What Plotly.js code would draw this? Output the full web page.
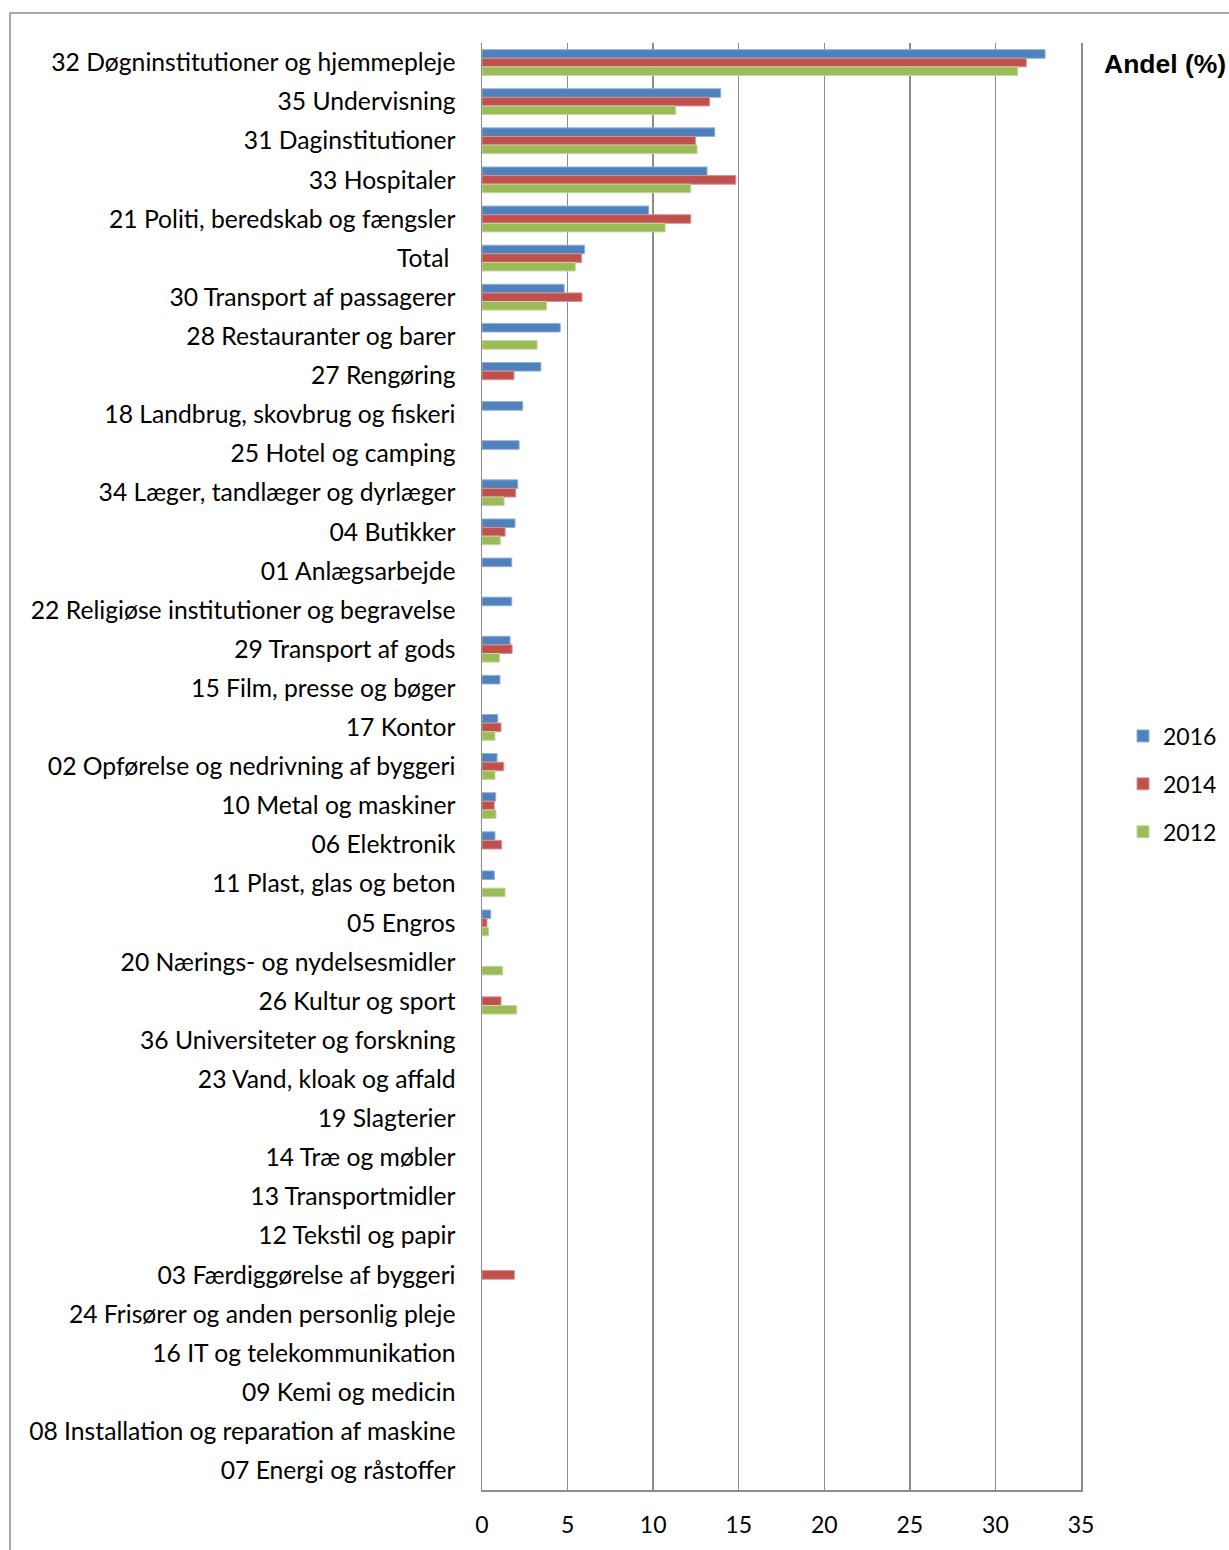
<!DOCTYPE html>
<html>
<head>
<meta charset="utf-8">
<script src="https://cdn.plot.ly/plotly-3.0.1.min.js"></script>
<style>html,body{margin:0;padding:0;background:#fff;}#chart{width:1229px;height:1550px;}</style>
</head>
<body>
<div id="chart"></div>
<script>
const categories = [
  "32 Døgninstitutioner og hjemmepleje",
  "35 Undervisning",
  "31 Daginstitutioner",
  "33 Hospitaler",
  "21 Politi, beredskab og fængsler",
  "Total\u00a0",
  "30 Transport af passagerer",
  "28 Restauranter og barer",
  "27 Rengøring",
  "18 Landbrug, skovbrug og fiskeri",
  "25 Hotel og camping",
  "34 Læger, tandlæger og dyrlæger",
  "04 Butikker",
  "01 Anlægsarbejde",
  "22 Religiøse institutioner og begravelse",
  "29 Transport af gods",
  "15 Film, presse og bøger",
  "17 Kontor",
  "02 Opførelse og nedrivning af byggeri",
  "10 Metal og maskiner",
  "06 Elektronik",
  "11 Plast, glas og beton",
  "05 Engros",
  "20 Nærings- og nydelsesmidler",
  "26 Kultur og sport",
  "36 Universiteter og forskning",
  "23 Vand, kloak og affald",
  "19 Slagterier",
  "14 Træ og møbler",
  "13 Transportmidler",
  "12 Tekstil og papir",
  "03 Færdiggørelse af byggeri",
  "24 Frisører og anden personlig pleje",
  "16 IT og telekommunikation",
  "09 Kemi og medicin",
  "08 Installation og reparation af maskine",
  "07 Energi og råstoffer"
];
const values2016 = [32.9, 13.95, 13.6, 13.15, 9.74, 5.99, 4.8, 4.57, 3.44, 2.38, 2.17, 2.09, 1.93, 1.74, 1.74, 1.64, 1.05, 0.92, 0.88, 0.80, 0.76, 0.72, 0.51, null, null, null, null, null, null, null, null, null, null, null, null, null, null];
const values2014 = [31.8, 13.29, 12.47, 14.83, 12.2, 5.82, 5.84, null, 1.87, null, null, 1.97, 1.35, null, null, 1.76, null, 1.11, 1.27, 0.72, 1.15, null, 0.29, null, 1.11, null, null, null, null, null, null, 1.89, null, null, null, null, null];
const values2012 = [31.3, 11.32, 12.57, 12.2, 10.7, 5.45, 3.77, 3.22, null, null, null, 1.29, 1.07, null, null, 1.03, null, 0.76, 0.76, 0.82, null, 1.35, 0.39, 1.21, 2.03, null, null, null, null, null, null, null, null, null, null, null, null];
const seriesNames = ["2016", "2014", "2012"];
const xTicks = [0, 5, 10, 15, 20, 25, 30, 35];

const colors = ["#4F81BD", "#C0504D", "#9BBB59"];
const edge = ["#8FB0DA", "#DA9190", "#C4D89E"];
const allVals = [values2016, values2014, values2012];

const traces = allVals.map((v, i) => ({
  type: "bar",
  orientation: "h",
  name: seriesNames[i],
  y: categories,
  x: v,
  legendgroup: "g" + i,
  marker: {color: colors[i], line: {color: edge[i], width: 1}},
  hoverinfo: "x+y+name"
}));

const fam = "Lato, 'Open Sans', sans-serif";

const layout = {
  width: 1229,
  height: 1550,
  paper_bgcolor: "#fff",
  plot_bgcolor: "#fff",
  margin: {l: 482, r: 148, t: 43, b: 60, pad: 0},
  barmode: "group",
  bargap: 0.34,
  bargroupgap: 0,
  font: {family: fam, size: 24, color: "#000"},
  xaxis: {
    range: [0, 35],
    tickvals: xTicks,
    ticktext: xTicks.map(String),
    showgrid: true,
    gridcolor: "#8c8c8c",
    gridwidth: 1.5,
    showline: true,
    linecolor: "#8c8c8c",
    linewidth: 1.5,
    zeroline: false,
    ticks: "",
    ticklabelstandoff: 14,
    tickfont: {family: fam, size: 23, color: "#000"},
    fixedrange: true
  },
  yaxis: {
    type: "category",
    autorange: "reversed",
    showline: true,
    mirror: true,
    linecolor: "#8c8c8c",
    linewidth: 1.5,
    showgrid: false,
    ticks: "",
    ticklabelstandoff: 20,
    tickfont: {family: fam, size: 24.7, color: "#000"},
    fixedrange: true
  },
  legend: {
    xref: "container", yref: "container",
    x: 1123 / 1229, xanchor: "left",
    y: 1 - 784 / 1550, yanchor: "middle",
    traceorder: "grouped",
    tracegroupgap: 15,
    font: {family: fam, size: 23, color: "#000"},
    itemwidth: 30,
    bgcolor: "rgba(0,0,0,0)"
  },
  annotations: [{
    text: "<b>Andel (%)</b>",
    xref: "paper", yref: "paper",
    x: (1102 - 482) / 599, y: 1 - (64 - 43) / 1447, xanchor: "left", yanchor: "middle",
    showarrow: false,
    font: {family: "'Liberation Sans', Arial, sans-serif", size: 26.5, color: "#000"}
  }],
  shapes: [{
    type: "rect", xref: "paper", yref: "paper",
    x0: (10 - 482) / 599, x1: 1.3, y0: -0.1, y1: 1 + (43 - 13) / 1447,
    line: {color: "#8c8c8c", width: 1.5},
    layer: "below"
  }]
};

Plotly.newPlot("chart", traces, layout, {displayModeBar: false, staticPlot: true});
</script>
</body>
</html>
